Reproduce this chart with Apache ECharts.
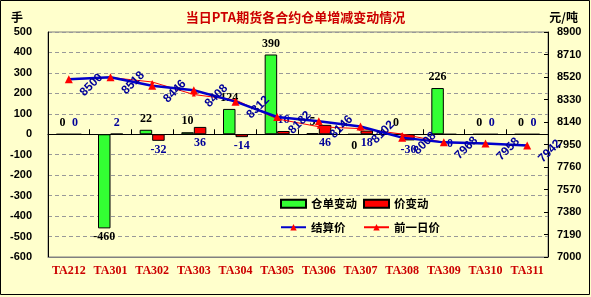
<!DOCTYPE html>
<html><head><meta charset="utf-8">
<script src="https://cdn.jsdelivr.net/npm/echarts@6/dist/echarts.min.js"></script>
<style>html,body{margin:0;padding:0;background:#fff}#c{width:591px;height:297px}</style>
</head><body><div id="c"></div>
<script>
// ---- data ----
const categories = ['TA212','TA301','TA302','TA303','TA304','TA305','TA306','TA307','TA308','TA309','TA310','TA311'];
const receiptChange = [0, -460, 22, 10, 124, 390, 5, 0, 0, 226, 0, 0];      // 仓单变动 (手)
const priceChange   = [0, 2, -32, 36, -14, 16, 46, 18, -30, 0, 0, 0];        // 价变动
const settlePrice   = [8500, 8518, 8446, 8408, 8312, 8182, 8146, 8102, 8008, 7968, 7958, 7942]; // 结算价
const prevPrice     = [8500, 8516, 8478, 8372, 8326, 8166, 8100, 8084, 8038, 7968, 7958, 7942]; // 前一日价
const leftAxisTicks  = [-600, -500, -400, -300, -200, -100, 0, 100, 200, 300, 400, 500];
const rightAxisTicks = [7000, 7190, 7380, 7570, 7760, 7950, 8140, 8330, 8520, 8710, 8900];
const seriesNames = ['仓单变动', '价变动', '结算价', '前一日价'];
const titleText = '当日PTA期货各合约仓单增减变动情况';

// ---- styling / build ----
const BG = '#FFFFCC';
const greenBelow = new Set([7]);
const redBelow = new Set([3, 6, 7, 9]);

const greenData = receiptChange.map((v, i) => ({
  value: v,
  label: { position: (v < 0 || greenBelow.has(i)) ? 'bottom' : 'top', distance: v < 0 ? 3 : 5 }
}));
const redData = priceChange.map((v, i) => ({
  value: v,
  label: { position: (v < 0 || redBelow.has(i)) ? 'bottom' : 'top', distance: (v < 0 || redBelow.has(i)) ? 3 : 5 }
}));

const chart = echarts.init(document.getElementById('c'), null, { renderer: 'canvas' });
const barLabelFont = { fontFamily: 'Liberation Serif', fontWeight: 'bold', fontSize: 12 };

chart.setOption({
  backgroundColor: BG,
  animation: false,
  title: [
    { text: titleText, left: 'center', top: 6,
      textStyle: { color: '#CC0000', fontSize: 13, fontWeight: 'bold', fontFamily: 'Noto Sans CJK SC' } },
    { text: '手', left: 6, top: 6,
      textStyle: { color: '#000', fontSize: 12, fontWeight: 'bold', fontFamily: 'Noto Sans CJK SC' } },
    { text: '元/吨', right: 8, top: 6,
      textStyle: { color: '#000', fontSize: 12, fontWeight: 'bold', fontFamily: 'Noto Sans CJK SC' } }
  ],
  graphic: [{
    type: 'rect', silent: true, z: 100,
    shape: { x: 0.5, y: 0.5, width: 589, height: 294 },
    style: { fill: null, stroke: '#000', lineWidth: 1 }
  }],
  legend: [
    { orient: 'vertical', left: 275, top: 193, itemWidth: 25, itemHeight: 8, itemGap: 12,
      data: [{ name: seriesNames[0], icon: 'rect' }, { name: seriesNames[2] }],
      textStyle: { color: '#000', fontSize: 11.5, fontWeight: 'bold', fontFamily: 'Noto Sans CJK SC' } },
    { orient: 'vertical', left: 358, top: 193, itemWidth: 25, itemHeight: 8, itemGap: 12,
      data: [{ name: seriesNames[1], icon: 'rect' }, { name: seriesNames[3] }],
      textStyle: { color: '#000', fontSize: 11.5, fontWeight: 'bold', fontFamily: 'Noto Sans CJK SC' } }
  ],
  grid: { left: 48, right: 43, top: 32, bottom: 40, show: true, borderColor: '#808080', borderWidth: 1, backgroundColor: BG },
  xAxis: [
    { type: 'category', data: categories, position: 'bottom',
      axisLine: { onZero: false, show: true, lineStyle: { color: '#808080' } },
      axisTick: { show: false },
      axisLabel: { interval: 0, color: '#CC0000', fontWeight: 'bold', fontFamily: 'Liberation Serif', fontSize: 12, margin: 8 } },
    { type: 'category', data: categories, position: 'bottom',
      axisLine: { onZero: true, onZeroAxisIndex: 0, show: true, lineStyle: { color: '#000' } },
      axisTick: { show: true, inside: true, length: 5, interval: 0, lineStyle: { color: '#000' } },
      axisLabel: { show: false } }
  ],
  yAxis: [
    { type: 'value', position: 'left', min: leftAxisTicks[0], max: leftAxisTicks[leftAxisTicks.length - 1],
      interval: leftAxisTicks[1] - leftAxisTicks[0],
      axisLine: { show: true, lineStyle: { color: '#000' } }, axisTick: { show: false },
      axisLabel: { color: '#000', fontWeight: 'bold', fontFamily: 'Liberation Sans', fontSize: 11, margin: 16 },
      splitLine: { show: true, lineStyle: { color: '#999', type: [4, 3] } } },
    { type: 'value', position: 'right', min: rightAxisTicks[0], max: rightAxisTicks[rightAxisTicks.length - 1],
      interval: rightAxisTicks[1] - rightAxisTicks[0],
      axisLine: { show: true, lineStyle: { color: '#000' } },
      axisTick: { show: true, inside: true, length: 4, lineStyle: { color: '#000' } },
      axisLabel: { color: '#000', fontWeight: 'bold', fontFamily: 'Liberation Sans', fontSize: 11, margin: 9,
                   formatter: v => String(Math.round(v)) },
      splitLine: { show: false } }
  ],
  series: [
    { name: seriesNames[0], type: 'bar', xAxisIndex: 0, yAxisIndex: 0, data: greenData,
      barWidth: 12.5, barGap: '0%',
      itemStyle: { color: '#33FF33', borderColor: '#000', borderWidth: 1 },
      label: Object.assign({ show: true, color: '#000' }, barLabelFont) },
    { name: seriesNames[1], type: 'bar', xAxisIndex: 0, yAxisIndex: 0, data: redData,
      barWidth: 12.5, barGap: '0%',
      itemStyle: { color: '#FF0000', borderColor: '#000', borderWidth: 1 },
      label: Object.assign({ show: true, color: '#000099' }, barLabelFont) },
    { name: seriesNames[3], type: 'line', xAxisIndex: 0, yAxisIndex: 1, data: prevPrice, z: 4,
      symbol: 'triangle', symbolSize: 4,
      lineStyle: { color: '#FF0000', width: 1 }, itemStyle: { color: '#FF0000' } },
    { name: seriesNames[2], type: 'line', xAxisIndex: 0, yAxisIndex: 1, data: settlePrice, z: 5,
      symbol: 'triangle', symbolSize: 8,
      lineStyle: { color: '#0000CC', width: 2.5 }, itemStyle: { color: '#FF0000' },
      label: { show: true, position: 'inside', rotate: 45, offset: [12, 20], align: 'center', verticalAlign: 'middle',
               color: '#000099', fontWeight: 'bold', fontSize: 12, fontFamily: 'Liberation Sans' } }
  ]
});
</script></body></html>
